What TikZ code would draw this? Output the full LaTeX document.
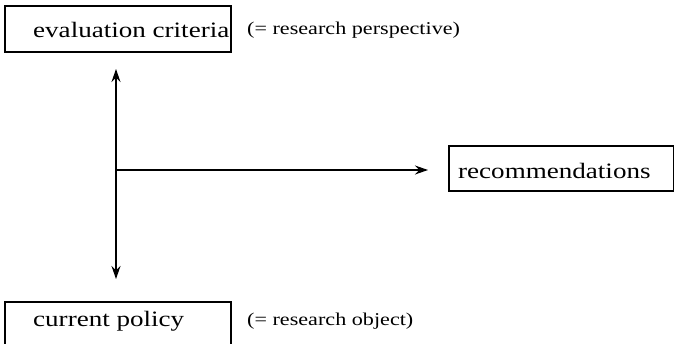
\documentclass[tikz,border=0pt]{standalone}
\usepackage{fontspec}
\setmainfont[FakeStretch=1.23]{Liberation Serif}
\usetikzlibrary{arrows.meta}
\begin{document}
\begin{tikzpicture}[x=1pt,y=-1pt,
  frame/.style={draw,line width=1.3pt},
  label/.style={inner sep=0pt,anchor=base west,font=\fontsize{22}{24}\selectfont},
  note/.style={inner sep=0pt,anchor=base west,font=\fontsize{18}{20}\selectfont},
  link/.style={line width=1.1pt,-{Stealth[length=13pt,width=9pt]}},
  biarrow/.style={line width=1.1pt,{Stealth[length=13pt,width=9pt]}-{Stealth[length=13pt,width=9pt]}}]
\clip (0,0) rectangle (674,343);
% boxes
\draw[frame] (5,6) rectangle (231,52);
\draw[frame] (449,146) rectangle (673.5,191);
\draw[frame] (5,302) rectangle (231,360);
% texts
\node[label] (crit) at (33,37) {evaluation criteria};
\node[note] (persp) at (247,34) {(= research perspective)};
\node[label] (reco) at (458,178) {recommendations};
\node[label] (pol) at (33,326) {current policy};
\node[note] (obj) at (247,325) {(= research object)};
% arrows
\coordinate (top) at (116,69);
\coordinate (bot) at (116,279);
\coordinate (mid) at (116,170);
\coordinate (tip) at (428,170);
\draw[biarrow] (top) -- (bot);
\draw[link] (mid) -- (tip);
\end{tikzpicture}
\end{document}
